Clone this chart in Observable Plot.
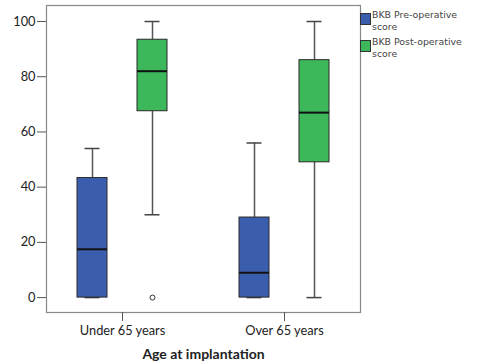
<!DOCTYPE html>
<html>
<head>
<meta charset="utf-8">
<script src="https://cdn.jsdelivr.net/npm/d3@7"></script>
<script src="https://cdn.jsdelivr.net/npm/@observablehq/plot@0.6"></script>
<style>
  body { margin: 0; background: #fff; }
  #wrap { position: relative; width: 478px; height: 363px; }
  #wrap svg { font-family: Lato, "Open Sans", sans-serif; }
  #wrap [aria-label="x-axis label"] text { font-weight: bold; font-size: 14px; }
  .legend { position: absolute; left: 360px; top: 9px; font-family: "DejaVu Sans", sans-serif; font-size: 9.4px; color: #444; line-height: 12px; }
  .item { position: relative; padding-left: 12px; margin-bottom: 3px; }
  .sw { position: absolute; left: 0; top: 4px; width: 9px; height: 10px; border: 1px solid #333; }
</style>
</head>
<body>
<div id="wrap"></div>
<script>
// Categories and series
const groups = ["Under 65 years", "Over 65 years"];
const series = ["BKB Pre-operative score", "BKB Post-operative score"];
const colors = ["#3a5ead", "#3cb75a"];
const yTicks = [0, 20, 40, 60, 80, 100];

// Box statistics per group (Under 65, Over 65)
const preMin = [0, 0];
const preQ1 = [0, 0];
const preMedian = [17.5, 9];
const preQ3 = [43.3, 29];
const preMax = [54, 56];

const postMin = [30, 0];
const postQ1 = [67.5, 49];
const postMedian = [82, 67];
const postQ3 = [93.4, 86];
const postMax = [100, 100];

const postOutliers = [[0], []];

const stats = [
  {min: preMin, q1: preQ1, med: preMedian, q3: preQ3, max: preMax, out: [[], []]},
  {min: postMin, q1: postQ1, med: postMedian, q3: postQ3, max: postMax, out: postOutliers}
];

const rows = [];
const outRows = [];
series.forEach((s, si) => {
  groups.forEach((g, gi) => {
    const st = stats[si];
    rows.push({series: s, si, group: g, min: st.min[gi], q1: st.q1[gi], med: st.med[gi], q3: st.q3[gi], max: st.max[gi]});
    st.out[gi].forEach(v => outRows.push({series: s, si, group: g, value: v}));
  });
});

const half = 81, off = 30, boxHalf = 15, capHalf = 7.5;
const marks = [];
series.forEach((s, si) => {
  const o = si === 0 ? -off : off;
  const data = rows.filter(d => d.si === si);
  const boxInset = {insetLeft: half + o - boxHalf, insetRight: half - o - boxHalf};
  const capInset = {insetLeft: half + o - capHalf, insetRight: half - o - capHalf};
  marks.push(
    Plot.ruleX(data, {x: "group", y1: "min", y2: "q1", dx: o, stroke: "#555", strokeWidth: 1.5}),
    Plot.ruleX(data, {x: "group", y1: "q3", y2: "max", dx: o, stroke: "#555", strokeWidth: 1.5}),
    Plot.tickY(data, {x: "group", y: "min", stroke: "#444", strokeWidth: 1.5, ...capInset}),
    Plot.tickY(data, {x: "group", y: "max", stroke: "#444", strokeWidth: 1.5, ...capInset}),
    Plot.rectY(data, {x: "group", y1: "q1", y2: "q3", fill: colors[si], stroke: "#2a2a2a", strokeWidth: 1, ...boxInset}),
    Plot.tickY(data, {x: "group", y: "med", stroke: "#111", strokeWidth: 2, ...boxInset}),
    Plot.dot(outRows.filter(d => d.si === si), {x: "group", y: "value", dx: o, r: 2.5, stroke: "#333", fill: "white", strokeWidth: 1})
  );
});

const chart = Plot.plot({
  width: 478,
  height: 363,
  marginLeft: 46,
  marginRight: 118,
  marginTop: 5,
  marginBottom: 51,
  style: {fontSize: "12.8px", color: "#222", background: "white"},
  x: {domain: groups, range: [41, 365], padding: 0},
  y: {domain: [-5.4, 105.8]},
  marks: [
    ...marks,
    Plot.frame({stroke: "#888", strokeWidth: 1.2}),
    Plot.axisY({ticks: yTicks, tickSize: 9, tickPadding: 2, label: null, stroke: "#555"}),
    Plot.axisX({tickSize: 9, tickPadding: 4, label: "Age at implantation", labelAnchor: "center", labelOffset: 46, labelArrow: "none", stroke: "#555"})
  ]
});

const wrap = document.getElementById("wrap");
wrap.appendChild(chart);

const legend = document.createElement("div");
legend.className = "legend";
series.forEach((s, i) => {
  const item = document.createElement("div");
  item.className = "item";
  const sw = document.createElement("span");
  sw.className = "sw";
  sw.style.background = colors[i];
  item.appendChild(sw);
  const words = s.split(" ");
  const txt = document.createElement("span");
  txt.innerHTML = words.slice(0, 2).join(" ") + "<br>" + words.slice(2).join(" ");
  item.appendChild(txt);
  legend.appendChild(item);
});
wrap.appendChild(legend);
</script>
</body>
</html>
